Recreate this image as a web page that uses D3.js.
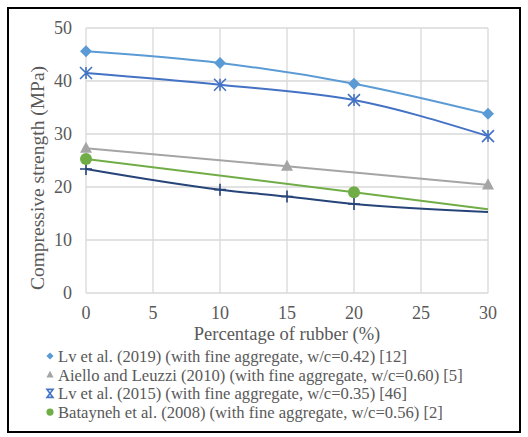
<!DOCTYPE html>
<html>
<head>
<meta charset="utf-8">
<script src="https://cdn.jsdelivr.net/npm/d3@7"></script>
<style>
  body { margin: 0; background: #fff; }
  svg { display: block; }
  text { font-family: 'Liberation Serif', 'DejaVu Serif', serif; fill: #595959; }
</style>
</head>
<body>
<script>
const w = 528
const h = 437

// rubber content (%)
const xTicks = [0, 5, 10, 15, 20, 25, 30]
const yTicks = [0, 10, 20, 30, 40, 50]

// Lv et al. (2019)
const lv2019X = [0, 10, 20, 30]
const lv2019Y = [45.6, 43.4, 39.5, 33.8]
// Lv et al. (2015)
const lv2015X = [0, 10, 20, 30]
const lv2015Y = [41.5, 39.3, 36.4, 29.6]
// Aiello and Leuzzi (2010)
const aielloX = [0, 15, 30]
const aielloY = [27.3, 23.9, 20.4]
// Batayneh et al. (2008), points and line end
const batX = [0, 20]
const batY = [25.3, 19.0]
const batLineX = [0, 20, 30]
const batLineY = [25.3, 19.0, 15.8]
// unlabelled series with + markers
const plusX = [0, 10, 15, 20]
const plusY = [23.4, 19.5, 18.2, 16.8]
const plusLineX = [0, 10, 15, 20, 30]
const plusLineY = [23.4, 19.5, 18.2, 16.8, 15.3]

const legendItems = [
  { name: 'Lv et al. (2019) (with fine aggregate, w/c=0.42) [12]', sym: 'diamond', color: '#5b9bd5' },
  { name: 'Aiello and Leuzzi (2010) (with fine aggregate, w/c=0.60) [5]', sym: 'triangle', color: '#a5a5a5' },
  { name: 'Lv et al. (2015) (with fine aggregate, w/c=0.35) [46]', sym: 'star', color: '#4472c4' },
  { name: 'Batayneh et al. (2008) (with fine aggregate, w/c=0.56) [2]', sym: 'circle', color: '#70ad47' }
]

const zip = (xs, ys) => xs.map((x, i) => ({ x, y: ys[i] }))

const svg = d3.select('body').append('svg')
  .attr('width', w)
  .attr('height', h)

// outer frame
svg.append('rect')
  .attr('x', 8).attr('y', 8)
  .attr('width', 512).attr('height', 424)
  .attr('fill', 'none')
  .attr('stroke', '#000')
  .attr('stroke-width', 2)

const x = d3.scaleLinear().domain([0, 30]).range([86, 488])
const y = d3.scaleLinear().domain([0, 50]).range([293, 28])

// grid
svg.append('g')
  .selectAll('line')
  .data(xTicks)
  .enter().append('line')
  .attr('x1', d => x(d)).attr('x2', d => x(d))
  .attr('y1', y(0)).attr('y2', y(50))
  .attr('stroke', '#d9d9d9')
  .attr('stroke-width', 1.3)

svg.append('g')
  .selectAll('line')
  .data(yTicks)
  .enter().append('line')
  .attr('x1', x(0)).attr('x2', x(30))
  .attr('y1', d => y(d)).attr('y2', d => y(d))
  .attr('stroke', '#d9d9d9')
  .attr('stroke-width', 1.3)

// tick labels
svg.append('g')
  .selectAll('text')
  .data(yTicks)
  .enter().append('text')
  .attr('x', 72)
  .attr('y', d => y(d))
  .attr('dy', '0.35em')
  .attr('text-anchor', 'end')
  .style('font-size', '18px')
  .text(d => d)

svg.append('g')
  .selectAll('text')
  .data(xTicks)
  .enter().append('text')
  .attr('x', d => x(d))
  .attr('y', 313)
  .attr('dy', '0.35em')
  .attr('text-anchor', 'middle')
  .style('font-size', '18px')
  .text(d => d)

// axis titles
svg.append('text')
  .attr('x', 287).attr('y', 334)
  .attr('dy', '0.35em')
  .attr('text-anchor', 'middle')
  .style('font-size', '18.5px')
  .text('Percentage of rubber (%)')

svg.append('text')
  .attr('transform', 'translate(37,178) rotate(-90)')
  .attr('dy', '0.35em')
  .attr('text-anchor', 'middle')
  .style('font-size', '19.5px')
  .text('Compressive strength (MPa)')

// lines
const smooth = d3.line().x(d => x(d.x)).y(d => y(d.y)).curve(d3.curveMonotoneX)

const lineSeries = [
  { data: zip(aielloX, aielloY), color: '#a5a5a5' },
  { data: zip(batLineX, batLineY), color: '#70ad47' },
  { data: zip(plusLineX, plusLineY), color: '#264478' },
  { data: zip(lv2015X, lv2015Y), color: '#4472c4' },
  { data: zip(lv2019X, lv2019Y), color: '#5b9bd5' }
]

svg.append('g')
  .selectAll('path')
  .data(lineSeries)
  .enter().append('path')
  .attr('d', d => smooth(d.data))
  .attr('fill', 'none')
  .attr('stroke', d => d.color)
  .attr('stroke-width', 2)

// markers
const drawMarker = (g, sym, color, s) => {
  if (sym === 'diamond') {
    g.append('path').attr('d', `M0,${-s}L${s},0L0,${s}L${-s},0Z`).attr('fill', color)
  } else if (sym === 'triangle') {
    g.append('path').attr('d', `M0,${-s * 1.1}L${s},${s * 0.75}L${-s},${s * 0.75}Z`).attr('fill', color)
  } else if (sym === 'circle') {
    g.append('circle').attr('r', s).attr('fill', color)
  } else if (sym === 'star') {
    g.append('path')
      .attr('d', `M${-s},${-s}L${s},${s}M${s},${-s}L${-s},${s}M0,${-s}L0,${s}`)
      .attr('stroke', color).attr('stroke-width', 1.6).attr('fill', 'none')
  } else if (sym === 'plus') {
    g.append('path')
      .attr('d', `M${-s},0L${s},0M0,${-s}L0,${s}`)
      .attr('stroke', color).attr('stroke-width', 1.6).attr('fill', 'none')
  }
}

const markerSeries = [
  { data: zip(aielloX, aielloY), sym: 'triangle', color: '#a5a5a5', s: 6 },
  { data: zip(plusX, plusY), sym: 'plus', color: '#264478', s: 6 },
  { data: zip(batX, batY), sym: 'circle', color: '#70ad47', s: 6 },
  { data: zip(lv2015X, lv2015Y), sym: 'star', color: '#4472c4', s: 6 },
  { data: zip(lv2019X, lv2019Y), sym: 'diamond', color: '#5b9bd5', s: 6 }
]

markerSeries.forEach(ser => {
  svg.append('g')
    .selectAll('g')
    .data(ser.data)
    .enter().append('g')
    .attr('transform', d => `translate(${x(d.x)},${y(d.y)})`)
    .each(function () { drawMarker(d3.select(this), ser.sym, ser.color, ser.s) })
})

// legend
const legend = svg.append('g')
  .selectAll('g')
  .data(legendItems)
  .enter().append('g')
  .attr('transform', (d, i) => `translate(50,${356 + i * 18.7})`)

legend.each(function (d) {
  const g = d3.select(this)
  const m = g.append('g')
  if (d.sym === 'star') {
    m.append('path').attr('d', 'M-3,-4L3,-4L-3,4L3,4Z').attr('fill', 'none').attr('stroke', d.color).attr('stroke-width', 1.6)
  } else {
    drawMarker(m, d.sym, d.color, 3.6)
  }
  g.append('text')
    .attr('x', 8)
    .attr('dy', '0.35em')
    .style('font-size', '16.6px')
    .text(d.name)
})
</script>
</body>
</html>
